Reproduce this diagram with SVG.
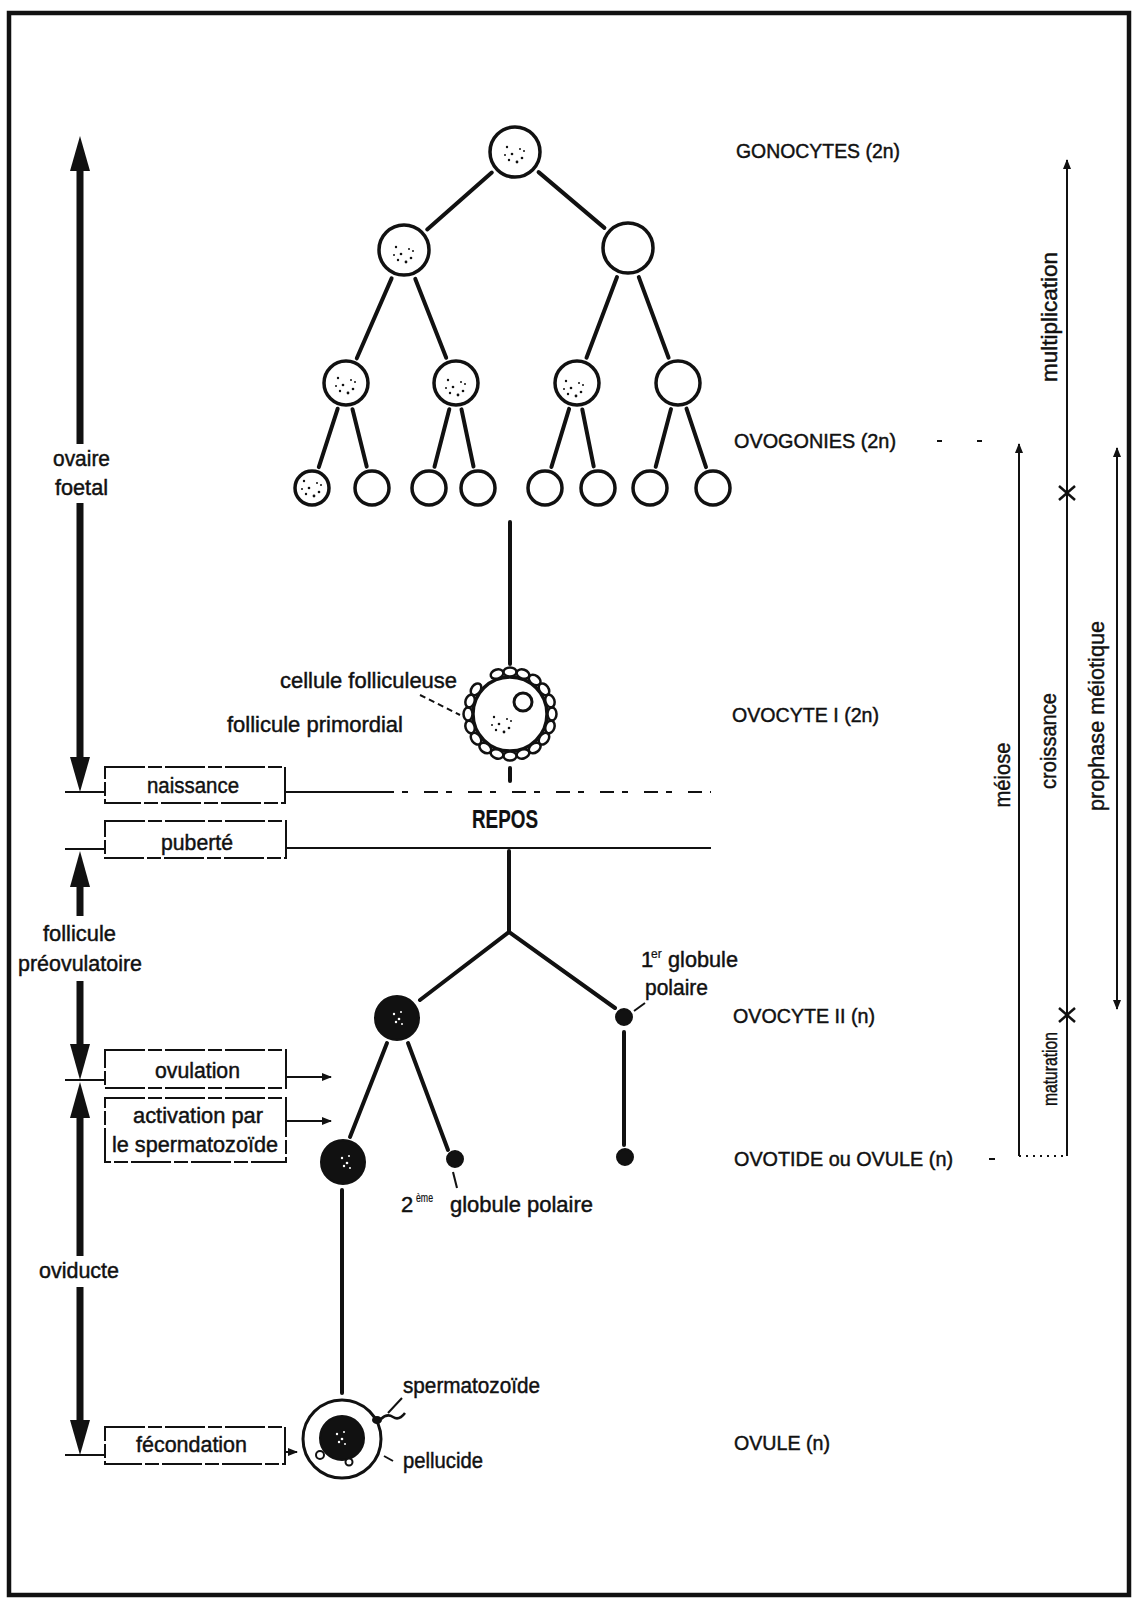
<svg xmlns="http://www.w3.org/2000/svg" width="1133" height="1603" viewBox="0 0 1133 1603">
<defs>
<style>
.t{font-family:"Liberation Sans",Arial,sans-serif;font-size:22px;fill:#111;stroke:#111;stroke-width:0.45}
.cap{font-size:20px}
.b{font-weight:bold;font-size:25px;stroke-width:0.2}
.sup{font-size:12px;stroke-width:0.2}
.ln{stroke:#111;stroke-width:4;stroke-linecap:round;fill:none}
.thin{stroke:#111;stroke-width:2;fill:none}
.cell{fill:#fff;stroke:#111;stroke-width:3.5}
.dark{fill:#111;stroke:#111;stroke-width:2}
.box{fill:none;stroke:#111;stroke-width:2;stroke-dasharray:40 3 14 3}
.shaft{stroke:#111;stroke-width:7}
.head{fill:#111}
.tick{stroke:#111;stroke-width:2}
.cross{stroke:#111;stroke-width:2.5}
</style>
<marker id="sa" viewBox="0 0 10 10" refX="9" refY="5" markerWidth="5" markerHeight="5" orient="auto">
  <path d="M0,1 L10,5 L0,9 z" fill="#111"/>
</marker>
<!-- granular cytoplasm dots -->
<g id="sp" fill="#111">
  <circle cx="-8" cy="-5" r="1.2"/><circle cx="-3" cy="2" r="1.3"/><circle cx="5" cy="-3" r="1"/>
  <circle cx="7" cy="6" r="1.3"/><circle cx="-6" cy="8" r="1.2"/><circle cx="2" cy="10" r="1.4"/>
  <circle cx="9" cy="-1" r="1"/><circle cx="-10" cy="3" r="1"/>
</g>
<g id="wsp" fill="#fff">
  <circle cx="-3" cy="-2" r="1.2"/><circle cx="2" cy="3" r="1.3"/><circle cx="4" cy="-4" r="1"/>
  <circle cx="-1" cy="6" r="1.2"/><circle cx="5" cy="8" r="1"/>
</g>
<!-- one follicular cell of the ring -->
<ellipse id="fc" cx="552" cy="714" rx="4.5" ry="6.5" fill="#fff" stroke="#111" stroke-width="2.5"/>
</defs>

<rect width="1133" height="1603" fill="#fff"/>
<rect x="9" y="13" width="1120" height="1582" fill="none" stroke="#111" stroke-width="4.5"/>

<!-- connectors -->
<g id="connectors">
  <!-- multiplication tree -->
  <line class="ln" x1="491.8" y1="172.5" x2="427.2" y2="229.5"/>
  <line class="ln" x1="538.6" y1="172.1" x2="604.4" y2="227.9"/>
  <line class="ln" x1="391.6" y1="278.4" x2="356.8" y2="358.3"/>
  <line class="ln" x1="415.3" y1="278.9" x2="446.2" y2="357.8"/>
  <line class="ln" x1="617" y1="277" x2="586.5" y2="357.7"/>
  <line class="ln" x1="638.8" y1="277.1" x2="668.6" y2="357.7"/>
  <line class="ln" x1="337.7" y1="408.7" x2="318.8" y2="467.1"/>
  <line class="ln" x1="352.5" y1="409.2" x2="366.7" y2="466.6"/>
  <line class="ln" x1="449.3" y1="409.2" x2="434.5" y2="466.7"/>
  <line class="ln" x1="461.5" y1="409.4" x2="473.5" y2="466.5"/>
  <line class="ln" x1="569.1" y1="408.8" x2="551.4" y2="467"/>
  <line class="ln" x1="582.3" y1="409.5" x2="593.7" y2="466.4"/>
  <line class="ln" x1="671" y1="409.1" x2="655.7" y2="466.8"/>
  <line class="ln" x1="686.5" y1="408.6" x2="706" y2="467.1"/>
  <!-- to the primordial follicle -->
  <line class="ln" x1="510" y1="522" x2="510" y2="664"/>
  <line class="ln" x1="510" y1="768" x2="510" y2="781"/>
  <!-- after puberty -->
  <line class="ln" x1="509" y1="851" x2="509" y2="932"/>
  <polyline class="ln" points="420,1000 509,932 615,1008"/>
  <line class="ln" x1="387" y1="1043" x2="350" y2="1137"/>
  <line class="ln" x1="408" y1="1043" x2="448" y2="1150"/>
  <line class="ln" x1="624" y1="1032" x2="624" y2="1145"/>
  <line class="ln" x1="342" y1="1190" x2="342" y2="1393"/>

  <!-- naissance / puberté levels -->
  <line class="thin" x1="285" y1="792" x2="380" y2="792"/>
  <line class="thin" x1="380" y1="792" x2="711" y2="792" stroke-dasharray="14 8 6 16"/>
  <line class="thin" x1="286" y1="848" x2="711" y2="848"/>
  <line class="thin" x1="286" y1="1077" x2="331" y2="1077" marker-end="url(#sa)"/>
  <line class="thin" x1="286" y1="1121" x2="331" y2="1121" marker-end="url(#sa)"/>
  <line class="thin" x1="285" y1="1452" x2="297" y2="1452" marker-end="url(#sa)"/>

  <!-- left ticks -->
  <line class="tick" x1="65" y1="792" x2="105" y2="792"/>
  <line class="tick" x1="65" y1="849" x2="105" y2="849"/>
  <line class="tick" x1="65" y1="1080" x2="105" y2="1080"/>
  <line class="tick" x1="65" y1="1455" x2="105" y2="1455"/>

  <!-- left period arrows -->
  <line class="shaft" x1="80" y1="165" x2="80" y2="444"/>
  <line class="shaft" x1="80" y1="503" x2="80" y2="760"/>
  <polygon class="head" points="80,136 70,171 90,171"/>
  <polygon class="head" points="70,757 90,757 80,792"/>
  <line class="shaft" x1="80" y1="884" x2="80" y2="916"/>
  <line class="shaft" x1="80" y1="981" x2="80" y2="1047"/>
  <polygon class="head" points="80,851 70,887 90,887"/>
  <polygon class="head" points="70,1044 90,1044 80,1080"/>
  <line class="shaft" x1="80" y1="1115" x2="80" y2="1256"/>
  <line class="shaft" x1="80" y1="1287" x2="80" y2="1423"/>
  <polygon class="head" points="80,1082 70,1118 90,1118"/>
  <polygon class="head" points="70,1420 90,1420 80,1455"/>

  <!-- phase scales on the right -->
  <line class="thin" x1="1067" y1="1156" x2="1067" y2="160" marker-end="url(#sa)"/>
  <line class="thin" x1="1019" y1="1156" x2="1019" y2="444" marker-end="url(#sa)"/>
  <line class="thin" x1="1117" y1="1007" x2="1117" y2="448" marker-end="url(#sa)"/>
  <line class="thin" x1="1117" y1="800" x2="1117" y2="1009" marker-end="url(#sa)"/>
  <line class="thin" x1="1019" y1="1156" x2="1067" y2="1156" stroke-dasharray="2 5"/>
  <line class="cross" x1="1059" y1="486" x2="1075" y2="500"/>
  <line class="cross" x1="1059" y1="500" x2="1075" y2="486"/>
  <line class="cross" x1="1059" y1="1008" x2="1075" y2="1022"/>
  <line class="cross" x1="1059" y1="1022" x2="1075" y2="1008"/>
  <line class="thin" x1="937" y1="441" x2="942" y2="441"/>
  <line class="thin" x1="977" y1="441" x2="982" y2="441"/>
  <line class="thin" x1="989" y1="1159" x2="995" y2="1159"/>

  <!-- label leaders -->
  <line class="thin" x1="420" y1="695" x2="460" y2="715" stroke-dasharray="6 4"/>
  <line class="thin" x1="645" y1="1003" x2="634" y2="1011"/>
  <line class="thin" x1="453" y1="1172" x2="457" y2="1188"/>
  <line class="thin" x1="388" y1="1413" x2="402" y2="1398"/>
  <line class="thin" x1="384" y1="1456" x2="393" y2="1461"/>
</g>

<!-- gonocyte -->
<g id="gonocyte"><circle class="cell" cx="515" cy="152" r="25"/><use href="#sp" x="515" y="152"/></g>
<!-- ovogonia, first division -->
<g id="ovogonie-1"><circle class="cell" cx="404" cy="250" r="25"/><use href="#sp" x="404" y="252"/></g>
<g id="ovogonie-2"><circle class="cell" cx="628" cy="248" r="25"/></g>
<!-- second division -->
<g id="ovogonie-3"><circle class="cell" cx="346" cy="383" r="22"/><use href="#sp" x="346" y="383"/></g>
<g id="ovogonie-4"><circle class="cell" cx="456" cy="383" r="22"/><use href="#sp" x="456" y="385"/></g>
<g id="ovogonie-5"><circle class="cell" cx="577" cy="383" r="22"/><use href="#sp" x="574" y="386"/></g>
<g id="ovogonie-6"><circle class="cell" cx="678" cy="383" r="22"/></g>
<!-- third division -->
<g id="ovogonie-7"><circle class="cell" cx="312" cy="488" r="17"/><use href="#sp" x="312" y="486"/></g>
<g id="ovogonie-8"><circle class="cell" cx="372" cy="488" r="17"/></g>
<g id="ovogonie-9"><circle class="cell" cx="429" cy="488" r="17"/></g>
<g id="ovogonie-10"><circle class="cell" cx="478" cy="488" r="17"/></g>
<g id="ovogonie-11"><circle class="cell" cx="545" cy="488" r="17"/></g>
<g id="ovogonie-12"><circle class="cell" cx="598" cy="488" r="17"/></g>
<g id="ovogonie-13"><circle class="cell" cx="650" cy="488" r="17"/></g>
<g id="ovogonie-14"><circle class="cell" cx="713" cy="488" r="17"/></g>

<!-- primordial follicle -->
<g id="ovocyte-1">
  <circle class="cell" cx="510" cy="714" r="37"/>
  <use href="#fc"/>
  <use href="#fc" transform="rotate(18 510 714)"/>
  <use href="#fc" transform="rotate(36 510 714)"/>
  <use href="#fc" transform="rotate(54 510 714)"/>
  <use href="#fc" transform="rotate(72 510 714)"/>
  <use href="#fc" transform="rotate(90 510 714)"/>
  <use href="#fc" transform="rotate(108 510 714)"/>
  <use href="#fc" transform="rotate(126 510 714)"/>
  <use href="#fc" transform="rotate(144 510 714)"/>
  <use href="#fc" transform="rotate(162 510 714)"/>
  <use href="#fc" transform="rotate(180 510 714)"/>
  <use href="#fc" transform="rotate(198 510 714)"/>
  <use href="#fc" transform="rotate(216 510 714)"/>
  <use href="#fc" transform="rotate(252 510 714)"/>
  <use href="#fc" transform="rotate(270 510 714)"/>
  <use href="#fc" transform="rotate(288 510 714)"/>
  <use href="#fc" transform="rotate(306 510 714)"/>
  <use href="#fc" transform="rotate(324 510 714)"/>
  <use href="#fc" transform="rotate(342 510 714)"/>
  <circle cx="523" cy="702" r="9" fill="#fff" stroke="#111" stroke-width="3"/>
  <use href="#sp" x="502" y="722"/>
</g>

<!-- secondary oocyte and polar bodies -->
<g id="ovocyte-2"><circle class="dark" cx="397" cy="1018" r="22"/><use href="#wsp" x="397" y="1016"/></g>
<g id="globule-1"><circle class="dark" cx="624" cy="1017" r="8"/></g>
<g id="ovotide"><circle class="dark" cx="343" cy="1162" r="22"/><use href="#wsp" x="345" y="1160"/></g>
<g id="globule-2"><circle class="dark" cx="455" cy="1159" r="8"/></g>
<g id="globule-3"><circle class="dark" cx="625" cy="1157" r="8"/></g>

<!-- fertilised ovum -->
<g id="ovule">
  <circle cx="342" cy="1439" r="39" fill="#fff" stroke="#111" stroke-width="3"/>
  <circle class="dark" cx="342" cy="1438" r="22"/>
  <use href="#wsp" x="340" y="1436"/>
  <circle cx="320" cy="1455" r="4" fill="#fff" stroke="#111" stroke-width="2"/>
  <circle cx="349" cy="1462" r="3.5" fill="#fff" stroke="#111" stroke-width="2"/>
  <ellipse cx="377" cy="1420" rx="5" ry="4" fill="#111"/>
  <path d="M381,1419 q6,-6 12,-2 t12,-4" fill="none" stroke="#111" stroke-width="2.5"/>
</g>

<!-- event boxes -->
<g id="naissance"><rect class="box" x="105" y="767" width="180" height="36"/><text class="t" x="147" y="793" textLength="92" lengthAdjust="spacingAndGlyphs">naissance</text></g>
<g id="puberte"><rect class="box" x="105" y="821" width="181" height="37"/><text class="t" x="161" y="850" textLength="72" lengthAdjust="spacingAndGlyphs">puberté</text></g>
<g id="ovulation"><rect class="box" x="105" y="1050" width="181" height="38"/><text class="t" x="155" y="1078" textLength="85" lengthAdjust="spacingAndGlyphs">ovulation</text></g>
<g id="activation"><rect class="box" x="105" y="1098" width="181" height="64"/>
  <text class="t" x="133" y="1123" textLength="130" lengthAdjust="spacingAndGlyphs">activation par</text>
  <text class="t" x="112" y="1152" textLength="166" lengthAdjust="spacingAndGlyphs">le spermatozoïde</text></g>
<g id="fecondation"><rect class="box" x="105" y="1427" width="180" height="37"/><text class="t" x="136" y="1452" textLength="111" lengthAdjust="spacingAndGlyphs">fécondation</text></g>

<!-- labels -->
<g id="labels">
  <text class="t cap" x="736" y="158" textLength="164" lengthAdjust="spacingAndGlyphs">GONOCYTES (2n)</text>
  <text class="t cap" x="734" y="448" textLength="162" lengthAdjust="spacingAndGlyphs">OVOGONIES (2n)</text>
  <text class="t cap" x="732" y="722" textLength="147" lengthAdjust="spacingAndGlyphs">OVOCYTE I (2n)</text>
  <text class="t cap" x="733" y="1023" textLength="142" lengthAdjust="spacingAndGlyphs">OVOCYTE II (n)</text>
  <text class="t cap" x="734" y="1166" textLength="219" lengthAdjust="spacingAndGlyphs">OVOTIDE ou OVULE (n)</text>
  <text class="t cap" x="734" y="1450" textLength="96" lengthAdjust="spacingAndGlyphs">OVULE (n)</text>

  <text class="t" x="280" y="688" textLength="177" lengthAdjust="spacingAndGlyphs">cellule folliculeuse</text>
  <text class="t" x="227" y="732" textLength="176" lengthAdjust="spacingAndGlyphs">follicule primordial</text>
  <text class="t b" x="472" y="828" textLength="66" lengthAdjust="spacingAndGlyphs">REPOS</text>

  <text class="t" x="53" y="466" textLength="57" lengthAdjust="spacingAndGlyphs">ovaire</text>
  <text class="t" x="55" y="495" textLength="53" lengthAdjust="spacingAndGlyphs">foetal</text>
  <text class="t" x="43" y="941" textLength="73" lengthAdjust="spacingAndGlyphs">follicule</text>
  <text class="t" x="18" y="971" textLength="124" lengthAdjust="spacingAndGlyphs">préovulatoire</text>
  <text class="t" x="39" y="1278" textLength="80" lengthAdjust="spacingAndGlyphs">oviducte</text>

  <text class="t" x="641" y="967">1</text>
  <text class="t sup" x="651" y="958">er</text>
  <text class="t" x="668" y="967" textLength="70" lengthAdjust="spacingAndGlyphs">globule</text>
  <text class="t" x="645" y="995" textLength="63" lengthAdjust="spacingAndGlyphs">polaire</text>

  <text class="t" x="401" y="1212">2</text>
  <text class="t sup" x="416" y="1202" textLength="17" lengthAdjust="spacingAndGlyphs">ème</text>
  <text class="t" x="450" y="1212" textLength="143" lengthAdjust="spacingAndGlyphs">globule polaire</text>

  <text class="t" x="403" y="1393" textLength="137" lengthAdjust="spacingAndGlyphs">spermatozoïde</text>
  <text class="t" x="403" y="1468" textLength="80" lengthAdjust="spacingAndGlyphs">pellucide</text>

  <text class="t" text-anchor="middle" transform="translate(1057,317) rotate(-90)" textLength="130" lengthAdjust="spacingAndGlyphs">multiplication</text>
  <text class="t" text-anchor="middle" transform="translate(1056,741) rotate(-90)" textLength="96" lengthAdjust="spacingAndGlyphs">croissance</text>
  <text class="t" text-anchor="middle" transform="translate(1057,1069) rotate(-90)" textLength="74" lengthAdjust="spacingAndGlyphs" style="font-size:21px">maturation</text>
  <text class="t" text-anchor="middle" transform="translate(1010,775) rotate(-90)" textLength="65" lengthAdjust="spacingAndGlyphs">méiose</text>
  <text class="t" text-anchor="middle" transform="translate(1104,716) rotate(-90)" textLength="190" lengthAdjust="spacingAndGlyphs">prophase méiotique</text>
</g>
</svg>
